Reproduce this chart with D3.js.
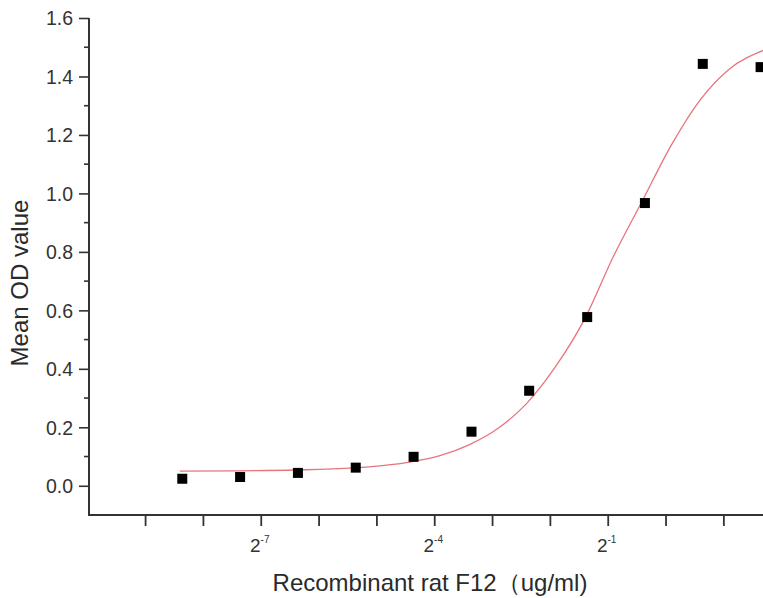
<!DOCTYPE html>
<html>
<head>
<meta charset="utf-8">
<script src="https://cdn.jsdelivr.net/npm/d3@7"></script>
<style>
  body { margin: 0; background: #fff; }
  text { font-family: "Liberation Sans", Arial, sans-serif; fill: #2a2a2a; }
</style>
</head>
<body>
<div id="chart"></div>
<script>
// measured points (ug/ml, mean OD)
const conc = [0.00305, 0.0061, 0.0122, 0.0244, 0.0488, 0.0977, 0.195, 0.391, 0.781, 1.5625, 3.125]
const od = [0.024, 0.030, 0.044, 0.062, 0.099, 0.185, 0.325, 0.577, 0.967, 1.443, 1.432]

// fitted curve (log2 of conc, OD)
const fitLog2 = [-8.4, -7.4, -6.4, -5.4, -4.9, -4.4, -3.9, -3.4, -2.9, -2.4, -1.9, -1.4, -0.9, -0.4, 0.1, 0.6, 1.1, 1.7]
const fitOD = [0.050, 0.051, 0.054, 0.061, 0.069, 0.082, 0.103, 0.140, 0.196, 0.282, 0.408, 0.570, 0.785, 0.975, 1.165, 1.320, 1.425, 1.490]

const yTicks = [0.0, 0.2, 0.4, 0.6, 0.8, 1.0, 1.2, 1.4, 1.6]
const yMinor = [0.1, 0.3, 0.5, 0.7, 0.9, 1.1, 1.3, 1.5]
const xTickExp = [-9, -8, -7, -6, -5, -4, -3, -2, -1, 0, 1]
const xLabelExp = [-7, -4, -1]

let width = 763
let height = 598

let svg = d3.select("#chart")
    .append("svg")
    .attr("width", width)
    .attr("height", height)

let x = d3.scaleLog().base(2)
    .domain([Math.pow(2, -9.97), Math.pow(2, 1.72)])
    .range([89, 765])
let y = d3.scaleLinear()
    .domain([-0.1, 1.6])
    .range([515, 18])

const axisColor = "#333"

// y axis
let yAxis = svg.append("g")
    .attr("transform", "translate(89,0)")
    .call(d3.axisLeft(y).tickValues(yTicks).tickFormat(d3.format(".1f")).tickSize(10).tickPadding(6))
yAxis.select(".domain").remove()
yAxis.selectAll("line").attr("stroke", axisColor).attr("stroke-width", 1.6)
yAxis.selectAll("text").attr("font-size", 19.5).attr("dy", "0.35em").style("fill", "#333")

// y minor ticks
svg.append("g").selectAll("line")
    .data(yMinor)
    .join("line")
    .attr("x1", 84).attr("x2", 89)
    .attr("y1", d => y(d)).attr("y2", d => y(d))
    .attr("stroke", axisColor).attr("stroke-width", 1.6)

// x axis
let xAxis = svg.append("g")
    .attr("transform", "translate(0,515)")
    .call(d3.axisBottom(x).tickValues(xTickExp.map(e => Math.pow(2, e))).tickFormat("").tickSize(11))
xAxis.select(".domain").remove()
xAxis.selectAll("line").attr("stroke", axisColor).attr("stroke-width", 1.8)

// axis lines
svg.append("line")
    .attr("x1", 89).attr("x2", 89)
    .attr("y1", y(1.6)).attr("y2", y(-0.1))
    .attr("stroke", axisColor).attr("stroke-width", 2)
svg.append("line")
    .attr("x1", 88).attr("x2", width)
    .attr("y1", 515).attr("y2", 515)
    .attr("stroke", axisColor).attr("stroke-width", 2)

// x tick labels 2^n
let xl = svg.append("g").selectAll("text")
    .data(xLabelExp)
    .join("text")
    .attr("x", d => x(Math.pow(2, d)) - 1)
    .attr("y", 552)
    .attr("text-anchor", "middle")
    .attr("font-size", 19)
    .style("fill", "#333")
xl.append("tspan").text("2")
xl.append("tspan")
    .attr("dy", -9)
    .attr("font-size", 10)
    .text(d => d)

// fitted curve
let line = d3.line()
    .x(d => x(Math.pow(2, d[0])))
    .y(d => y(d[1]))
    .curve(d3.curveMonotoneX)
svg.append("path")
    .datum(fitLog2.map((v, i) => [v, fitOD[i]]))
    .attr("d", line)
    .attr("fill", "none")
    .attr("stroke", "#e8747c")
    .attr("stroke-width", 1.3)

// data points
svg.append("g").selectAll("rect")
    .data(conc.map((c, i) => [c, od[i]]))
    .join("rect")
    .attr("x", d => x(d[0]) - 5)
    .attr("y", d => y(d[1]) - 5)
    .attr("width", 10)
    .attr("height", 10)
    .attr("fill", "#000")

// axis titles
svg.append("text")
    .attr("transform", "translate(28,283) rotate(-90)")
    .attr("text-anchor", "middle")
    .attr("font-size", 24)
    .text("Mean OD value")

svg.append("text")
    .attr("x", 430)
    .attr("y", 591)
    .attr("text-anchor", "middle")
    .attr("font-size", 24)
    .text("Recombinant rat F12（ug/ml)")
</script>
</body>
</html>
